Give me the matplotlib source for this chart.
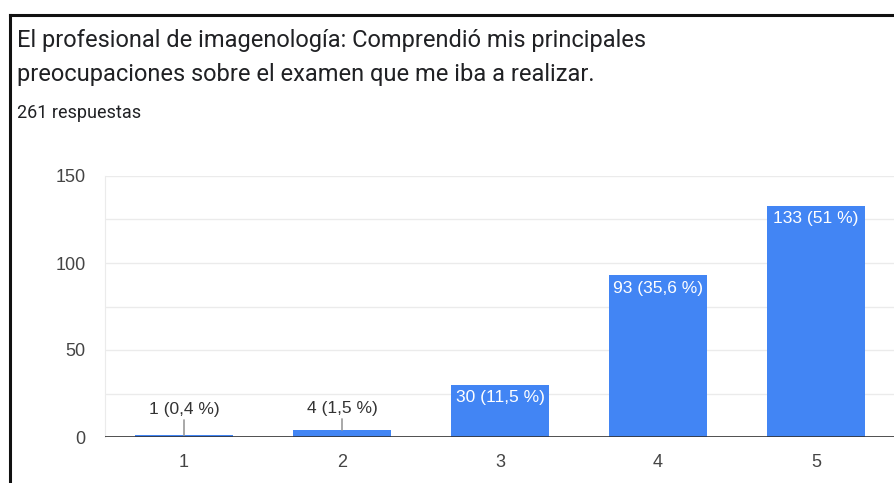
import matplotlib.pyplot as plt

# Datos
categorias = ["1", "2", "3", "4", "5"]
valores = [1, 4, 30, 93, 133]
etiquetas = ["1 (0,4 %)", "4 (1,5 %)", "30 (11,5 %)", "93 (35,6 %)", "133 (51 %)"]
titulo = "El profesional de imagenología: Comprendió mis principales\npreocupaciones sobre el examen que me iba a realizar."
subtitulo = "261 respuestas"

plt.rcParams['font.family'] = ['Liberation Sans', 'DejaVu Sans']

fig = plt.figure(figsize=(8.94, 4.83), dpi=100)

# marco negro (captura de pantalla)
fig.add_artist(plt.Line2D([9.5 / 894, 9.5 / 894], [0, 1 - 15 / 483], color='#111111', lw=2.2))
fig.add_artist(plt.Line2D([9.5 / 894, 1], [1 - 15 / 483, 1 - 15 / 483], color='#111111', lw=2.2))

fig.text(17 / 894, 1 - 40 / 483, titulo.split("\n")[0], fontsize=17, family=['Roboto', 'DejaVu Sans'],
         color='#202124', va='center')
fig.text(17 / 894, 1 - 75 / 483, titulo.split("\n")[1], fontsize=17, family=['Roboto', 'DejaVu Sans'],
         color='#202124', va='center')
fig.text(17 / 894, 1 - 113 / 483, subtitulo, fontsize=13, family=['Roboto', 'DejaVu Sans'],
         color='#202124', va='center')

ax = fig.add_axes([105 / 894, 46 / 483, 790 / 894, 261 / 483])
x = list(range(1, len(categorias) + 1))
ax.bar(x, valores, width=0.62, color='#4285f4', zorder=3)

ax.set_xlim(0.5, 5.5)
ax.set_ylim(0, 150)
ax.set_yticks([0, 50, 100, 150])
ax.set_yticks([25, 75, 125], minor=True)
ax.set_xticks(x)
ax.set_xticklabels(categorias)
ax.grid(axis='y', which='both', color='#ebebeb', lw=1, zorder=0)
ax.tick_params(axis='both', length=0, labelsize=13, colors='#444444')
ax.tick_params(axis='x', pad=12)
ax.tick_params(axis='y', which='minor', length=0)
ax.tick_params(axis='y', pad=14)
for s in ['top', 'right', 'bottom']:
    ax.spines[s].set_visible(False)
ax.spines['left'].set_color('#ebebeb')
ax.axhline(0, color='#333333', lw=1.2, zorder=4)

for xi, v, et in zip(x, valores, etiquetas):
    if v < 10:
        ax.annotate(et, xy=(xi, v), xytext=(0, 13 if v < 3 else 10), textcoords='offset points',
                    ha='center', va='bottom', fontsize=12.5, color='#333333',
                    arrowprops=dict(arrowstyle='-', color='#999999', lw=1.2, shrinkA=0, shrinkB=0))
    else:
        ax.annotate(et, xy=(xi, v), xytext=(0, -4), textcoords='offset points',
                    ha='center', va='top', fontsize=12.5, color='white', zorder=5)

fig.savefig('out.png', dpi=100)
